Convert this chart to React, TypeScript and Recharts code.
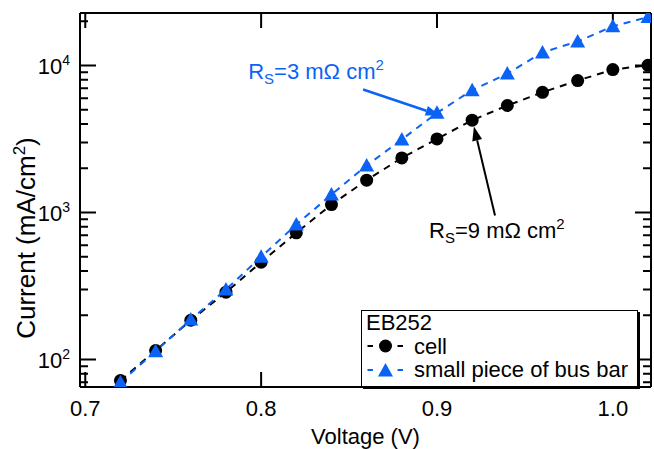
import { LineChart, Line, XAxis, YAxis, Legend, ReferenceLine } from "recharts";

const voltage = [0.72, 0.74, 0.76, 0.78, 0.8, 0.82, 0.84, 0.86, 0.88, 0.9, 0.92, 0.94, 0.96, 0.98, 1.0, 1.02];
const cellCurrent = [72, 115, 185, 287, 459, 728, 1133, 1660, 2355, 3170, 4250, 5350, 6580, 7910, 9390, 10050];
const busBarCurrent = [70, 114, 187, 299, 500, 828, 1325, 2090, 3140, 4770, 6800, 8820, 12300, 14600, 18500, 21400];

const xTicks = [0.7, 0.8, 0.9, 1.0];
const yMajorTicks = [100, 1000, 10000];
const yMinorTicks = [70, 80, 90, 200, 300, 400, 500, 600, 700, 800, 900, 2000, 3000, 4000, 5000, 6000, 7000, 8000, 9000, 20000];
const yTicks = [...yMinorTicks, ...yMajorTicks].sort((a, b) => a - b);

const legendTitle = "EB252";
const seriesNames = ["cell", "small piece of bus bar"];

// annotation arrows, tail -> tip, in data units
const blueArrow = [{ x: 0.858, y: 6870 }, { x: 0.9015, y: 4600 }];
const blackArrow = [{ x: 0.933, y: 955 }, { x: 0.921, y: 3845 }];

const data = voltage.map((v, i) => ({ v, cell: cellCurrent[i], bus: busBarCurrent[i] }));

const BLUE = "#0b63f6";
const FONT = '"Liberation Sans", Arial, Helvetica, sans-serif';
const FS = 22;
const X_DOMAIN = [0.697, 1.0217];
const Y_DOMAIN = [65, 22800];

const Circle = ({ cx, cy, fill }: any) => <circle cx={cx} cy={cy} r={6.5} fill={fill} />;
const Triangle = ({ cx, cy, fill }: any) => (
  <polygon points={`${cx},${cy - 7.5} ${cx - 7.5},${cy + 6} ${cx + 7.5},${cy + 6}`} fill={fill} />
);

const LeftLabel = ({ x, y, payload }: any) =>
  yMajorTicks.includes(payload.value) ? (
    <text x={x - 10} y={y + 8} textAnchor="end" fontSize={FS} fill="#000">
      10
      <tspan dy={-9} fontSize={14}>
        {Math.round(Math.log10(payload.value))}
      </tspan>
    </text>
  ) : (
    <g />
  );

const BottomLabel = ({ x, y, payload }: any) => (
  <text x={x} y={y + 29} textAnchor="middle" fontSize={FS} fill="#000">
    {payload.value.toFixed(1)}
  </text>
);

// inward tick marks on all four sides; the segment's end points are the plot corners
const frameTicks = (p: any) => {
  const { x1, y1, x2, y2 } = p;
  const left = Math.min(x1, x2);
  const right = Math.max(x1, x2);
  const top = Math.min(y1, y2);
  const bottom = Math.max(y1, y2);
  const yPos = (t: number) =>
    bottom - ((bottom - top) * Math.log(t / Y_DOMAIN[0])) / Math.log(Y_DOMAIN[1] / Y_DOMAIN[0]);
  const xPos = (v: number) => left + ((right - left) * (v - X_DOMAIN[0])) / (X_DOMAIN[1] - X_DOMAIN[0]);
  let d = "";
  yTicks.forEach((t) => {
    const y = yPos(t);
    const len = yMajorTicks.includes(t) ? 16 : 8;
    d += `M${left},${y}H${left + len}M${right},${y}H${right - len}`;
  });
  xTicks.forEach((v) => {
    const x = xPos(v);
    d += `M${x},${bottom}V${bottom - 15}M${x},${top}V${top + 15}`;
  });
  return <path d={d} stroke="#000" strokeWidth={2} fill="none" />;
};

const arrowShape = (color: string, width: number, label: string, dx: number, dy: number) => (p: any) => {
  const { x1, y1, x2, y2 } = p;
  const ang = Math.atan2(y2 - y1, x2 - x1);
  const L = 14;
  const W = 5;
  const bx = x2 - L * Math.cos(ang);
  const by = y2 - L * Math.sin(ang);
  const nx = -Math.sin(ang) * W;
  const ny = Math.cos(ang) * W;
  return (
    <g>
      <line x1={x1} y1={y1} x2={bx} y2={by} stroke={color} strokeWidth={width} />
      <polygon points={`${x2},${y2} ${bx + nx},${by + ny} ${bx - nx},${by - ny}`} fill={color} />
      <text x={x1 + dx} y={y1 + dy} fontSize={FS} fill={color} fontFamily={FONT}>
        R
        <tspan dy={5} fontSize={15}>S</tspan>
        <tspan dy={-5}>={label} mΩ cm</tspan>
        <tspan dy={-9} fontSize={15}>2</tspan>
      </text>
    </g>
  );
};

const LegendBox = () => (
  <div
    style={{
      boxSizing: "border-box",
      width: 277,
      height: 77,
      border: "1.5px solid #000",
      boxShadow: "2px 2px 0 #000",
      background: "#fff",
      padding: "0 4px",
      fontSize: FS,
      lineHeight: "23.5px",
      color: "#000",
      fontFamily: FONT,
    }}
  >
    <div>{legendTitle}</div>
    {seriesNames.map((name, i) => {
      const c = i === 0 ? "#000" : BLUE;
      return (
        <div key={name} style={{ display: "flex", alignItems: "center", height: 23.5 }}>
          <svg width={48} height={20} style={{ flex: "none" }}>
            <line x1={1.5} y1={10} x2={7} y2={10} stroke={c} strokeWidth={2} />
            <line x1={31.5} y1={10} x2={37} y2={10} stroke={c} strokeWidth={2} />
            {i === 0 ? <Circle cx={19.5} cy={10} fill={c} /> : <Triangle cx={19.5} cy={10.5} fill={c} />}
          </svg>
          <span>{name}</span>
        </div>
      );
    })}
  </div>
);

const axisLine = { stroke: "#000", strokeWidth: 2 };

export default function App() {
  return (
    <div style={{ position: "absolute", left: 0, top: 0, fontFamily: FONT, background: "#fff" }}>
      <LineChart width={654} height={449} data={data} margin={{ top: 13, right: 3, bottom: 0, left: 0 }}>
        <XAxis
          xAxisId="b"
          dataKey="v"
          type="number"
          domain={X_DOMAIN}
          allowDataOverflow
          ticks={xTicks}
          interval={0}
          height={62}
          tickSize={0}
          tickMargin={0}
          tickLine={false}
          axisLine={axisLine}
          tick={<BottomLabel />}
          label={{
            content: ({ viewBox }: any) => (
              <text x={viewBox.x + viewBox.width / 2} y={viewBox.y + 57} textAnchor="middle" fontSize={FS} fill="#000">
                Voltage (V)
              </text>
            ),
          }}
        />
        <YAxis
          yAxisId="l"
          scale="log"
          type="number"
          domain={Y_DOMAIN}
          allowDataOverflow
          ticks={yTicks}
          interval={0}
          width={80}
          tickSize={0}
          tickMargin={0}
          tickLine={false}
          axisLine={axisLine}
          tick={<LeftLabel />}
          label={{
            content: () => (
              <text x={35} y={238} textAnchor="middle" fontSize={26} fill="#000" transform="rotate(-90, 35, 238)">
                Current (mA/cm
                <tspan dy={-10} fontSize={17}>2</tspan>
                <tspan dy={10}>)</tspan>
              </text>
            ),
          }}
        />
        {/* top and right frame */}
        <ReferenceLine xAxisId="b" yAxisId="l" y={Y_DOMAIN[1]} stroke="#000" strokeWidth={2} ifOverflow="visible" />
        <ReferenceLine xAxisId="b" yAxisId="l" x={X_DOMAIN[1]} stroke="#000" strokeWidth={2} ifOverflow="visible" />
        <Line
          xAxisId="b"
          yAxisId="l"
          type="linear"
          dataKey="cell"
          name={seriesNames[0]}
          stroke="#000"
          strokeWidth={2}
          strokeDasharray="7 6"
          dot={(p: any) => <Circle key={`c${p.index}`} cx={p.cx} cy={p.cy} fill="#000" />}
          activeDot={false}
          isAnimationActive={false}
        />
        <Line
          xAxisId="b"
          yAxisId="l"
          type="linear"
          dataKey="bus"
          name={seriesNames[1]}
          stroke={BLUE}
          strokeWidth={2}
          strokeDasharray="7 6"
          dot={(p: any) => <Triangle key={`t${p.index}`} cx={p.cx} cy={p.cy} fill={BLUE} />}
          activeDot={false}
          isAnimationActive={false}
        />
        <ReferenceLine xAxisId="b" yAxisId="l" segment={blueArrow} shape={arrowShape(BLUE, 2.5, "3", -115, -11)} ifOverflow="visible" />
        <ReferenceLine xAxisId="b" yAxisId="l" segment={blackArrow} shape={arrowShape("#000", 2, "9", -66, 23)} ifOverflow="visible" />
        <ReferenceLine
          xAxisId="b"
          yAxisId="l"
          segment={[
            { x: X_DOMAIN[0], y: Y_DOMAIN[0] },
            { x: X_DOMAIN[1], y: Y_DOMAIN[1] },
          ]}
          shape={frameTicks}
          ifOverflow="visible"
        />
        <Legend
          content={() => <LegendBox />}
          layout="vertical"
          align="center"
          verticalAlign="middle"
          wrapperStyle={{ left: 361, top: 310, width: 277, height: 77 }}
        />
      </LineChart>
    </div>
  );
}
